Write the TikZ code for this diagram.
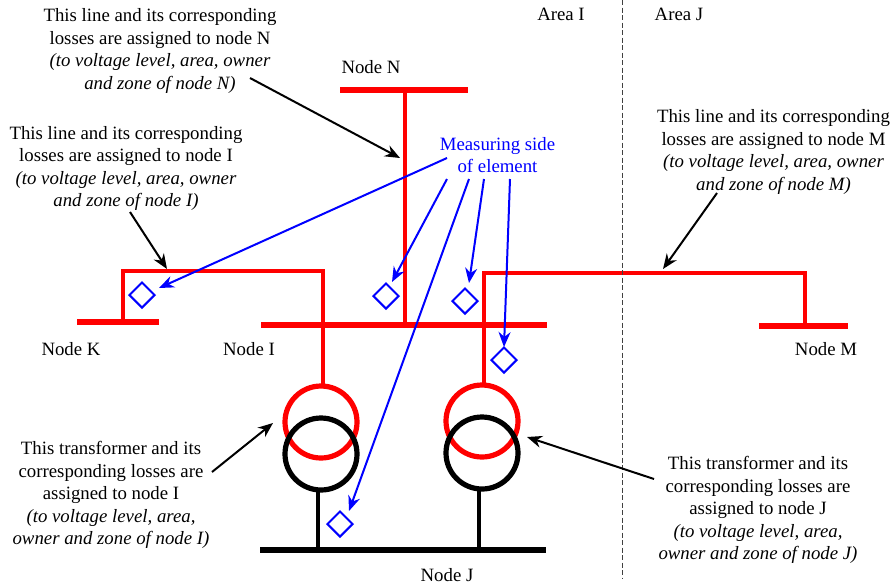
\documentclass[tikz,border=0pt]{standalone}
\usepackage{fontspec}
\setmainfont{Liberation Serif}
\usepackage{xcolor}
\usetikzlibrary{arrows.meta,positioning,shapes.geometric,calc}
\definecolor{measureblue}{RGB}{0,0,255}
\tikzset{
  redbus/.style={rectangle, fill=red, inner sep=0pt, minimum height=6.5pt},
  blackbus/.style={rectangle, fill=black, inner sep=0pt, minimum height=6.5pt},
  redline/.style={draw=red, line width=3.4pt},
  blackline/.style={draw=black, line width=3.4pt},
  redcoil/.style={circle, draw=red, line width=5.2pt, inner sep=0pt, minimum size=72pt},
  blackcoil/.style={circle, draw=black, line width=5.2pt, inner sep=0pt, minimum size=72pt},
  sidemark/.style={diamond, draw=measureblue, line width=2pt, inner sep=0pt, minimum size=26pt},
  blackarrow/.style={-{Stealth[length=15pt,width=12pt]}, line width=2pt},
  bluearrow/.style={-{Stealth[length=15pt,width=12pt]}, draw=measureblue, fill=measureblue, line width=2pt},
  note/.style={align=center, inner sep=0pt, font=\fontsize{18.8}{22.4}\selectfont},
  buslabel/.style={inner sep=0pt, font=\fontsize{18.8}{22}\selectfont}
}
\begin{document}
\begin{tikzpicture}[x=1pt,y=-1pt]
\useasboundingbox (0,0) rectangle (891,587);
% busbars
\node[redbus, minimum width=128pt] (busN) at (404,90) {};
\node[redbus, minimum width=82pt] (busK) at (118,322) {};
\node[redbus, minimum width=286pt] (busI) at (404,325) {};
\node[redbus, minimum width=89pt] (busM) at (803.5,326) {};
\node[blackbus, minimum width=286pt] (busJ) at (403,550) {};
% transformers
\node[redcoil] (coilIa) at (321,422) {};
\node[redcoil] (coilJa) at (482,421) {};
\draw[redline] (405,90) -- (405,325);
\coordinate (cornerK) at (123,271);
\coordinate (cornerI) at (323,271);
\coordinate (cornerJ) at (484,273);
\coordinate (cornerM) at (805,273);
\draw[redline] (123,322) -- (cornerK) -- (cornerI) -- (323,386);
\draw[redline] (484,384) -- (cornerJ) -- (cornerM) -- (805,326);
\node[blackcoil] (coilIb) at (321,454) {};
\node[blackcoil] (coilJb) at (482,453) {};
\draw[blackline] (318,491) -- (318,550);
\draw[blackline] (479,490) -- (479,550);
% measuring side marks
\node[sidemark] (markK) at (142,295) {};
\node[sidemark] (markN) at (386,296) {};
\node[sidemark] (markM) at (465,301) {};
\node[sidemark] (markJ) at (504,360) {};
\node[sidemark] (markI) at (340,524) {};
% area border
\coordinate (borderTop) at (622.5,0);
\coordinate (borderEnd) at (622.5,578);
\draw[draw=black!75, dash pattern=on 5pt off 2.5pt, line width=1.3pt] (borderTop) -- (borderEnd);
% labels
\node[buslabel] (lblN) at (371,67) {Node N};
\node[buslabel] (lblK) at (71,349) {Node K};
\node[buslabel] (lblI) at (249,349) {Node I};
\node[buslabel] (lblM) at (826,349) {Node M};
\node[buslabel] (lblJ) at (447,575) {Node J};
\node[buslabel] (areaI) at (561,14) {Area I};
\node[buslabel] (areaJ) at (679,14) {Area J};
\node[note] (noteN) at (160,51) {This line and its corresponding\\losses are assigned to node N\\\textit{(to voltage level, area, owner}\\\textit{and zone of node N)}};
\node[note] (noteI) at (126,168.5) {This line and its corresponding\\losses are assigned to node I\\\textit{(to voltage level, area, owner}\\\textit{and zone of node I)}};
\node[note] (noteM) at (773.5,152) {This line and its corresponding\\losses are assigned to node M\\\textit{(to voltage level, area, owner}\\\textit{and zone of node M)}};
\node[note] (noteTI) at (111,495) {This transformer and its\\corresponding losses are\\assigned to node I\\\textit{(to voltage level, area,}\\\textit{owner and zone of node I)}};
\node[note] (noteTJ) at (758,510) {This transformer and its\\corresponding losses are\\assigned to node J\\\textit{(to voltage level, area,}\\\textit{owner and zone of node J)}};
\node[note, text=measureblue] (noteSide) at (497.5,155) {Measuring side\\of element};
% black arrows
\coordinate (startN) at (250,78);
\coordinate (tipN) at (400,158);
\coordinate (startI) at (130,212);
\coordinate (tipI) at (167,269);
\coordinate (startM) at (717,193);
\coordinate (tipM) at (663,269);
\coordinate (startTI) at (212,472);
\coordinate (tipTI) at (273,423);
\coordinate (startTJ) at (654,479);
\coordinate (tipTJ) at (527,437);
\draw[blackarrow] (startN) -- (tipN);
\draw[blackarrow] (startI) -- (tipI);
\draw[blackarrow] (startM) -- (tipM);
\draw[blackarrow] (startTI) -- (tipTI);
\draw[blackarrow] (startTJ) -- (tipTJ);
% blue arrows
\coordinate (fromA) at (447,158);
\coordinate (fromB) at (447,179);
\coordinate (fromC) at (469,179);
\coordinate (fromD) at (484,179);
\coordinate (fromE) at (510,179);
\coordinate (tipA) at (159,288);
\coordinate (tipB) at (392,282);
\coordinate (tipC) at (349,511);
\coordinate (tipD) at (469,283);
\coordinate (tipE) at (504,347);
\draw[bluearrow] (fromA) -- (tipA);
\draw[bluearrow] (fromB) -- (tipB);
\draw[bluearrow] (fromC) -- (tipC);
\draw[bluearrow] (fromD) -- (tipD);
\draw[bluearrow] (fromE) -- (tipE);
\end{tikzpicture}
\end{document}
